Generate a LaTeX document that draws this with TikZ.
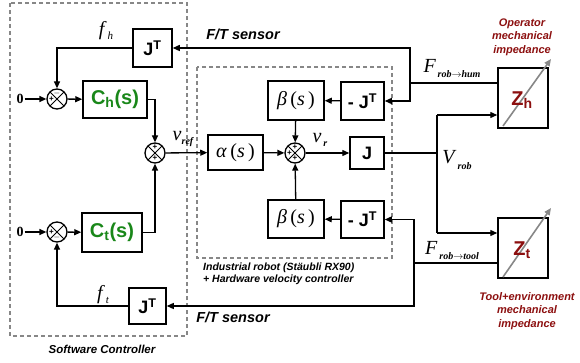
\documentclass[tikz,border=0pt]{standalone}
\usepackage{fontspec}
\setmainfont{Liberation Serif}
\setsansfont{Liberation Sans}
\usetikzlibrary{arrows.meta,calc}
\definecolor{grn}{RGB}{25,135,25}
\definecolor{dred}{RGB}{140,15,15}
\definecolor{dgray}{RGB}{135,135,135}
\begin{document}
\begin{tikzpicture}[x=1pt,y=-1pt,
 blk/.style={draw, line width=1.5pt, inner sep=0pt, font=\sffamily\bfseries\fontsize{18}{18}\selectfont},
 mblk/.style={draw, line width=1.5pt, inner sep=0pt, font=\rmfamily\fontsize{20}{20}\selectfont},
 arr/.style={line width=1.3pt, -{Triangle[length=7pt,width=6pt]}},
 ln/.style={line width=1.3pt},
 sumn/.style={circle, draw, line width=1.3pt, minimum size=20pt, inner sep=0pt,
   path picture={\draw[line width=1pt] (path picture bounding box.north west)--(path picture bounding box.south east)
   (path picture bounding box.north east)--(path picture bounding box.south west);}},
 sgn/.style={font=\sffamily\bfseries\fontsize{8}{8}\selectfont, inner sep=0pt},
 dbox/.style={draw=dgray, line width=1.5pt, dash pattern=on 4pt off 3pt},
 lbl/.style={font=\sffamily\bfseries\itshape, inner sep=0pt},
 sig/.style={font=\rmfamily\itshape\fontsize{20}{20}\selectfont, inner sep=0pt},
 imp/.style={font=\sffamily\bfseries\itshape\fontsize{11}{13.5}\selectfont, text=dred, align=center, inner sep=0pt},
]
\useasboundingbox (0,0) rectangle (580,363);
% dashed frames
\draw[dbox] (10,3) rectangle (187,336);
\draw[dbox] (197,67) rectangle (392,258);
\node[lbl, font=\sffamily\bfseries\itshape\fontsize{11.5}{11.5}\selectfont] (swc) at (102,349) {Software Controller};
\node[lbl, anchor=west, align=left, font=\sffamily\bfseries\itshape\fontsize{10.5}{12.5}\selectfont] (irl) at (203,274) {Industrial robot (Stäubli RX90)\\+ Hardware velocity controller};

% blocks
\node[blk, minimum width=39pt, minimum height=38pt] (jh) at (152.5,48) {J\textsuperscript{T}};
\node[blk, minimum width=37pt, minimum height=36pt] (jt) at (147.5,306) {J\textsuperscript{T}};
\node[blk, minimum width=64pt, minimum height=37pt, text=grn, font=\sffamily\bfseries\fontsize{20}{20}\selectfont] (ch) at (115,99.5) {C\textsubscript{h}(s)};
\node[blk, minimum width=60pt, minimum height=39pt, text=grn, font=\sffamily\bfseries\fontsize{20}{20}\selectfont] (ct) at (112,232.5) {C\textsubscript{t}(s)};
\node[mblk, minimum width=55pt, minimum height=35pt] (al) at (235.5,152.5) {\textit{α}\,(\textit{s}\,)};
\node[mblk, minimum width=56pt, minimum height=39pt] (b1) at (296,100.5) {\textit{β}\,(\textit{s}\,)};
\node[mblk, minimum width=56pt, minimum height=38pt] (b2) at (296,219) {\textit{β}\,(\textit{s}\,)};
\node[blk, minimum width=43pt, minimum height=38pt] (m1) at (362.5,101) {- J\textsuperscript{T}};
\node[blk, minimum width=43pt, minimum height=37pt] (m2) at (362.5,219.5) {- J\textsuperscript{T}};
\node[blk, minimum width=34pt, minimum height=32pt] (jj) at (367,153) {J};
\node[blk, minimum width=50pt, minimum height=60pt] (zh) at (523,98) {};
\node[blk, minimum width=50pt, minimum height=60pt] (zt) at (523,248) {};
\draw[draw=dgray, line width=1.6pt, -{Triangle[length=7pt,width=6pt]}] (503,126) -- (551,59);
\draw[draw=dgray, line width=1.6pt, -{Triangle[length=7pt,width=6pt]}] (503,277) -- (551,208);
\node[inner sep=0pt, text=dred, font=\sffamily\bfseries\fontsize{20}{20}\selectfont] (zhl) at (522,100) {Z\textsubscript{h}};
\node[inner sep=0pt, text=dred, font=\sffamily\bfseries\fontsize{20}{20}\selectfont] (ztl) at (522,250) {Z\textsubscript{t}};
\node[imp] (opl) at (522,37) {Operator\\mechanical\\impedance};
\node[imp] (tol) at (527,311) {Tool+environment\\mechanical\\impedance};

% sums
\node[sumn] (s1) at (57,99) {};
\node[sumn] (s2) at (57,232) {};
\node[sumn] (s3) at (155,153) {};
\node[sumn] (s4) at (295,153) {};
\node[sgn] at ($(s1)+(0,-5.5)$) {$-$};
\node[sgn] at ($(s1)+(-5.5,0)$) {+};
\node[sgn] at ($(s2)+(-5.5,0)$) {+};
\node[sgn] at ($(s2)+(0,5.5)$) {$-$};
\node[sgn] at ($(s3)+(0,-5.5)$) {+};
\node[sgn] at ($(s3)+(0,5.5)$) {+};
\node[sgn] at ($(s4)+(0,-5.5)$) {+};
\node[sgn] at ($(s4)+(-5.5,0)$) {+};
\node[sgn] at ($(s4)+(0,5.5)$) {+};

% inputs
\node[inner sep=1pt, font=\rmfamily\bfseries\fontsize{14}{14}\selectfont] (z1) at (20,99) {0};
\node[inner sep=1pt, font=\rmfamily\bfseries\fontsize{14}{14}\selectfont] (z2) at (20,232) {0};

% connectors
\draw[arr] (z1) -- (s1);
\draw[arr] (z2) -- (s2);
\draw[arr] (jh.west) -| (s1.north);
\draw[arr] (jt.west) -| (s2.south);
\draw[arr] (s1) -- (ch);
\draw[arr] (s2) -- (ct);
\draw[arr] (ch.east) -| (s3.north);
\draw[arr] (ct.east) -| (s3.south);
\draw[arr] (s3) -- (al);
\draw[arr] (al) -- (s4);
\draw[arr] (b1) -- (s4);
\draw[arr] (b2) -- (s4);
\draw[arr] (m1) -- (b1);
\draw[arr] (m2) -- (b2);
\draw[arr] (s4) -- (jj);
\coordinate (vj) at (437,153);
\coordinate (vt) at (437,115);
\coordinate (vb) at (437,233);
\draw[ln] (jj.east) -- (vj);
\draw[ln] (vt) -- (vb);
\draw[arr] (vt) -- (vt -| zh.west);
\draw[arr] (vb) -- (vb -| zt.west);
\coordinate (ch1) at (410,83);
\coordinate (ch2) at (414,263);
\draw[ln] (ch1 -| zh.west) -- (ch1);
\draw[arr] (ch1) |- (jh.east);
\draw[arr] (ch1) |- (m1.east);
\draw[ln] (ch2 -| zt.west) -- (ch2);
\draw[arr] (ch2) |- (m2.east);
\draw[arr] (ch2) |- (jt.east);

% signal labels
\node[sig] (fh) at (106,31) {f\hspace{3pt}\raisebox{-4pt}{\fontsize{11}{11}\selectfont h}};
\node[sig] (ft) at (103,295) {f\hspace{3pt}\raisebox{-4pt}{\fontsize{11}{11}\selectfont t}};
\node[sig] (vref) at (183,139) {v\raisebox{-4pt}{\fontsize{10}{10}\selectfont\bfseries ref}};
\node[sig] (vr) at (320,140) {v\hspace{2pt}\raisebox{-4pt}{\fontsize{10}{10}\selectfont\bfseries r}};
\node[sig] (vrob) at (457,160) {V\hspace{3pt}\raisebox{-6pt}{\fontsize{10}{10}\selectfont\bfseries rob}};
\node[sig] (frh) at (452,69) {F\hspace{2pt}\raisebox{-5pt}{\fontsize{10}{10}\selectfont\bfseries rob$\rightarrow$hum}};
\node[sig] (frt) at (452,251) {F\hspace{2pt}\raisebox{-5pt}{\fontsize{10}{10}\selectfont\bfseries rob$\rightarrow$tool}};
\node[lbl, font=\sffamily\bfseries\itshape\fontsize{14.5}{14.5}\selectfont] (fts1) at (243,34) {F/T sensor};
\node[lbl, font=\sffamily\bfseries\itshape\fontsize{14.5}{14.5}\selectfont] (fts2) at (233,317) {F/T sensor};
\end{tikzpicture}
\end{document}
